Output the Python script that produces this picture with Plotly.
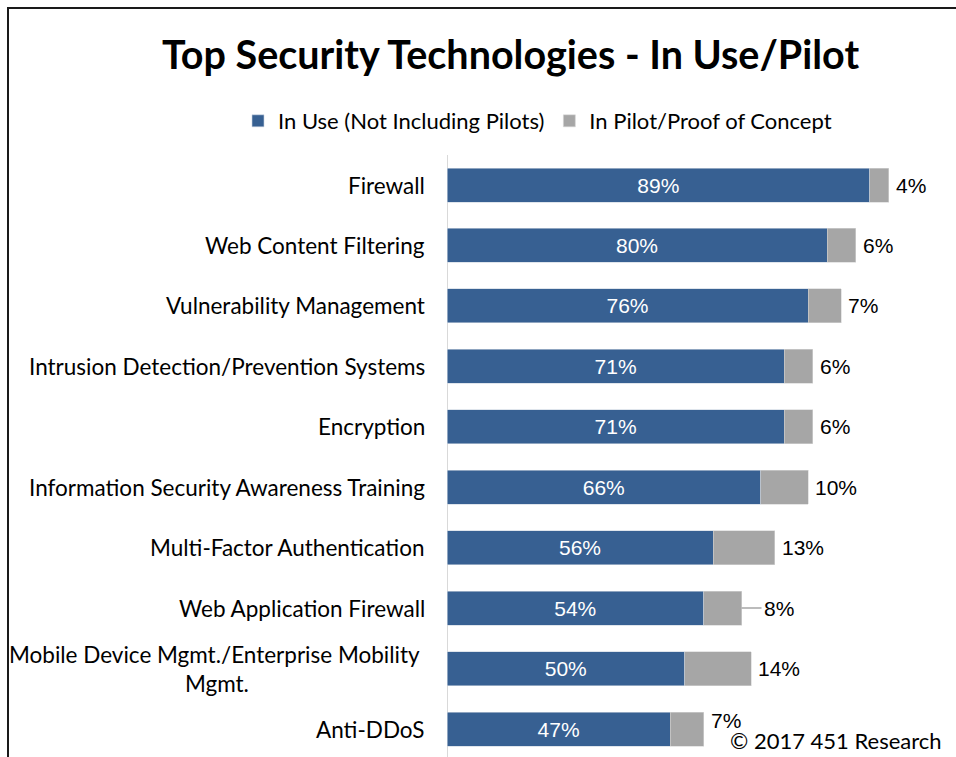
import plotly.graph_objects as go

categories = [
    "Firewall",
    "Web Content Filtering",
    "Vulnerability Management",
    "Intrusion Detection/Prevention Systems",
    "Encryption",
    "Information Security Awareness Training",
    "Multi-Factor Authentication",
    "Web Application Firewall",
    "Mobile Device Mgmt./Enterprise Mobility<br>Mgmt.",
    "Anti-DDoS",
]
in_use = [89, 80, 76, 71, 71, 66, 56, 54, 50, 47]
in_pilot = [4, 6, 7, 6, 6, 10, 13, 8, 14, 7]

BLUE = "#376092"
GRAY = "#A6A6A6"
CAT_FONT = "Lato"
NUM_FONT = "Liberation Sans, Arial"

W, H = 956, 757
L, R, T, B = 447, 34, 152, 0
PW, PH = W - L - R, H - T - B

fig = go.Figure()
fig.add_trace(go.Bar(
    name="In Use (Not Including Pilots)",
    y=categories, x=in_use, orientation="h",
    marker=dict(color=BLUE, line=dict(color="#C9D3E0", width=0.6)),
    text=[f"{v}%" for v in in_use], textposition="inside",
    insidetextanchor="middle",
    textfont=dict(color="white", size=21, family=NUM_FONT),
    hoverinfo="skip",
))
fig.add_trace(go.Bar(
    name="In Pilot/Proof of Concept",
    y=categories, x=in_pilot, orientation="h",
    marker=dict(color=GRAY, line=dict(color="#D6D6D6", width=0.6)),
    hoverinfo="skip",
))

annotations = []
n = len(categories)
for i, (c, u, p) in enumerate(zip(categories, in_use, in_pilot)):
    label = dict(
        x=u + p, y=c, xref="x", yref="y", text=f"{p}%",
        xanchor="left", font=dict(size=21, family=NUM_FONT, color="black"),
    )
    if c == "Web Application Firewall":
        # Excel-style leader line from bar end to the moved label
        label.update(showarrow=True, arrowhead=0, arrowwidth=1.5,
                     arrowcolor="#A6A6A6", ax=20, ay=0, standoff=0)
    else:
        label.update(showarrow=False, xshift=5, yshift=9 if i == n - 1 else 0)
    annotations.append(label)
    annotations.append(dict(
        x=0, y=c, xref="paper", yref="y", text=c.replace("Mobility<br>", "Mobility <br>"),
        showarrow=False, xanchor="right", align="center", xshift=-20,
        font=dict(size=22.5, family=CAT_FONT, color="black"),
    ))
annotations.append(dict(
    x=(944 - L) / PW, y=(H - 740) / PH, xref="paper", yref="paper",
    text="© 2017 451 Research",
    showarrow=False, xanchor="right", yanchor="middle",
    font=dict(size=22, family=CAT_FONT, color="black"),
))

fig.update_layout(
    width=W, height=H,
    margin=dict(l=L, r=R, t=T, b=B),
    paper_bgcolor="white", plot_bgcolor="white",
    barmode="stack", bargap=0.4375,
    title=dict(
        text="<b>Top Security Technologies - In Use/Pilot</b>",
        x=0.534, xanchor="center", y=1 - 55 / H, yanchor="middle",
        font=dict(size=39.5, family=CAT_FONT, color="black"),
    ),
    legend=dict(
        orientation="h", xref="paper", x=(238 - L) / PW, xanchor="left",
        yref="paper", y=(H - 121) / PH, yanchor="middle",
        font=dict(size=22, family=CAT_FONT, color="black"),
        traceorder="normal", itemwidth=30,
    ),
    xaxis=dict(range=[0, 100], visible=False, fixedrange=True),
    yaxis=dict(
        categoryorder="array", categoryarray=categories,
        range=[9.463, -0.546], autorange=False,
        showticklabels=False, showgrid=False, zeroline=False,
        showline=False, ticks="",
    ),
    annotations=annotations,
    shapes=[
        dict(type="line", xref="x", yref="paper", x0=0, x1=0, y0=0, y1=(H - 155) / PH,
             line=dict(color="#D9D9D9", width=2), layer="below"),
        dict(type="rect", xref="paper", yref="paper",
             x0=(8 - L) / PW, x1=1.3, y0=-0.2, y1=(H - 8) / PH,
             line=dict(color="#1a1a1a", width=2), fillcolor="rgba(0,0,0,0)"),
    ],
)

fig.write_html("out.html")
